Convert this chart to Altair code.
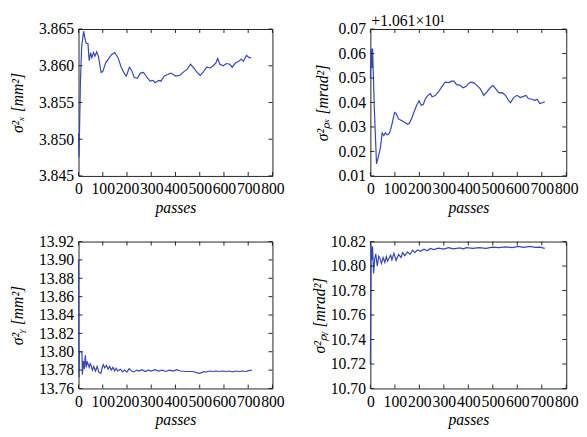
import altair as alt
import pandas as pd

FONT = "Liberation Serif"
LINE = "#3446b8"
H = 150

x_ticks = [0, 100, 200, 300, 400, 500, 600, 700, 800]

# Panel 1: sigma_x^2 [mm^2]
passes_1 = [0, 2, 8, 13, 21, 26, 31, 39, 44, 50, 55, 62, 68, 75, 82, 93, 100, 112, 123, 136,
            149, 163, 176, 190, 197, 210, 220, 230, 243, 255, 268, 281, 295, 308, 316, 331, 340,
            354, 368, 381, 401, 418, 435, 448, 462, 475, 489, 502, 516, 529, 543, 556, 567, 574,
            583, 597, 610, 624, 634, 648, 661, 671, 680, 693, 704, 712]
sigma_x2 = [3.8508, 3.8475, 3.8580, 3.8626, 3.8647, 3.8638, 3.8631, 3.8630, 3.8607, 3.8618,
            3.8611, 3.8618, 3.8613, 3.8619, 3.8613, 3.8591, 3.8592, 3.8604, 3.8609, 3.8615,
            3.8618, 3.8611, 3.8598, 3.8589, 3.8586, 3.8598, 3.8593, 3.8584, 3.8583, 3.8590,
            3.8591, 3.8585, 3.8579, 3.8580, 3.8577, 3.8580, 3.8579, 3.8586, 3.8588, 3.8590,
            3.8586, 3.8587, 3.8592, 3.8595, 3.8602, 3.8597, 3.8591, 3.8587, 3.8592, 3.8598,
            3.8597, 3.8600, 3.8604, 3.8610, 3.8602, 3.8600, 3.8603, 3.8602, 3.8598, 3.8604,
            3.8606, 3.8609, 3.8606, 3.8614, 3.8611, 3.8611]
y_ticks_1 = [3.845, 3.850, 3.855, 3.860, 3.865]

# Panel 2: sigma_px^2 [mrad^2], shown with offset +1.061e1
passes_2 = [0, 3, 6, 9, 16, 25, 32, 41, 48, 55, 61, 68, 76, 83, 92, 99, 105, 115, 125, 139,
            152, 159, 169, 179, 189, 199, 208, 216, 225, 235, 245, 252, 265, 279, 292, 305, 319,
            332, 341, 352, 365, 379, 392, 399, 410, 423, 436, 449, 463, 476, 489, 501, 512, 525,
            539, 552, 565, 572, 585, 599, 612, 625, 636, 645, 659, 672, 681, 692, 703, 712]
sigma_px2_offset = [0.050, 0.062, 0.054, 0.062, 0.038, 0.0149, 0.0176, 0.0216, 0.0276, 0.0265,
                    0.0276, 0.0268, 0.0272, 0.0289, 0.0329, 0.0359, 0.0355, 0.0333, 0.0327, 0.0319,
                    0.0311, 0.0315, 0.0336, 0.0363, 0.0389, 0.0407, 0.0389, 0.0392, 0.0416, 0.0429,
                    0.0436, 0.0423, 0.0428, 0.0445, 0.0465, 0.0483, 0.0481, 0.0487, 0.0487, 0.0473,
                    0.0471, 0.0460, 0.0466, 0.0476, 0.0483, 0.0480, 0.0469, 0.0456, 0.0429, 0.0443,
                    0.0460, 0.0469, 0.0456, 0.0439, 0.0440, 0.0429, 0.0407, 0.0399, 0.0420, 0.0429,
                    0.0420, 0.0425, 0.0429, 0.0416, 0.0413, 0.0409, 0.0413, 0.0396, 0.0399, 0.0403]
y_ticks_2 = [0.01, 0.02, 0.03, 0.04, 0.05, 0.06, 0.07]
offset_text = "+1.061×10¹"

# Panel 3: sigma_y^2 [mm^2]
passes_3 = [0, 2, 4, 14, 16, 20, 24, 28, 32, 36, 40, 44, 48, 52, 57, 63, 70, 77, 84, 92, 97,
            102, 108, 115, 122, 128, 135, 142, 149, 155, 162, 173, 182, 189, 200, 209, 219, 229,
            240, 250, 262, 275, 288, 300, 315, 330, 345, 360, 375, 391, 405, 420, 445, 472, 490,
            500, 515, 527, 540, 554, 567, 581, 595, 608, 622, 635, 650, 662, 675, 689, 702, 715]
sigma_y2 = [13.900, 13.772, 13.800, 13.800, 13.775, 13.790, 13.781, 13.796, 13.783, 13.7895,
            13.786, 13.783, 13.787, 13.785, 13.780, 13.784, 13.779, 13.784, 13.7775, 13.7765,
            13.782, 13.786, 13.7825, 13.785, 13.781, 13.784, 13.780, 13.783, 13.779, 13.782,
            13.779, 13.781, 13.778, 13.780, 13.778, 13.7815, 13.779, 13.778, 13.780, 13.779,
            13.7805, 13.7785, 13.780, 13.779, 13.7805, 13.779, 13.780, 13.7785, 13.780, 13.779,
            13.7805, 13.779, 13.7785, 13.7785, 13.777, 13.7765, 13.778, 13.778, 13.779, 13.7785,
            13.779, 13.7785, 13.779, 13.7785, 13.779, 13.778, 13.779, 13.7785, 13.779, 13.7785,
            13.7795, 13.780]
y_ticks_3 = [13.76, 13.78, 13.80, 13.82, 13.84, 13.86, 13.88, 13.90, 13.92]

# Panel 4: sigma_py^2 [mrad^2]
passes_4 = [0, 3, 6, 9, 13, 18, 22, 28, 34, 39, 45, 52, 59, 65, 70, 75, 83, 88, 96, 105, 115,
            125, 132, 140, 152, 162, 172, 182, 192, 205, 219, 232, 245, 258, 279, 299, 319, 339,
            365, 380, 392, 418, 445, 472, 499, 525, 552, 579, 605, 625, 652, 672, 692, 712]
sigma_py2 = [10.720, 10.817, 10.805, 10.816, 10.794, 10.806, 10.810, 10.800, 10.808, 10.8064,
             10.802, 10.807, 10.803, 10.8077, 10.804, 10.806, 10.809, 10.805, 10.8104, 10.8045,
             10.8095, 10.807, 10.811, 10.8085, 10.8115, 10.8095, 10.813, 10.811, 10.8132, 10.812,
             10.8138, 10.8125, 10.8144, 10.8135, 10.8146, 10.8138, 10.815, 10.814, 10.8148,
             10.814, 10.815, 10.8145, 10.815, 10.8145, 10.8155, 10.815, 10.8157, 10.815, 10.816,
             10.8152, 10.816, 10.8152, 10.8155, 10.8144]
y_ticks_4 = [10.70, 10.72, 10.74, 10.76, 10.78, 10.80, 10.82]


def panel(px, py, yticks, yfmt, ytitle, width, tpad, extent=None, extra=None):
    df = pd.DataFrame({"passes": px, "v": py})
    xs = alt.Scale(domain=[0, 800], nice=False, zero=False)
    ys = alt.Scale(domain=[yticks[0], yticks[-1]], nice=False, zero=False)
    yaxis_kw = dict(values=yticks, format=yfmt, title=ytitle, titlePadding=tpad,
                    labelOverlap=False)
    if extent is not None:
        yaxis_kw["minExtent"] = extent
        yaxis_kw["maxExtent"] = extent
    xaxis = alt.Axis(values=x_ticks, format="d", title="passes",
                     labelOverlap=False, labelFlush=False, titlePadding=3)
    yaxis = alt.Axis(**yaxis_kw)
    line = alt.Chart(df).mark_line(color=LINE, strokeWidth=1.2).encode(
        x=alt.X("passes:Q", scale=xs, axis=xaxis),
        y=alt.Y("v:Q", scale=ys, axis=yaxis),
    )
    ytdf = pd.DataFrame({"v": yticks})
    xtdf = pd.DataFrame({"passes": x_ticks})
    tick_color = "#222222"
    lt = alt.Chart(ytdf).mark_rule(color=tick_color).encode(
        y=alt.Y("v:Q", scale=ys, axis=yaxis), x=alt.value(0), x2=alt.value(4))
    rt = alt.Chart(ytdf).mark_rule(color=tick_color).encode(
        y=alt.Y("v:Q", scale=ys, axis=yaxis), x=alt.value(width - 4), x2=alt.value(width))
    bt = alt.Chart(xtdf).mark_rule(color=tick_color).encode(
        x=alt.X("passes:Q", scale=xs, axis=xaxis), y=alt.value(H - 4), y2=alt.value(H))
    tt = alt.Chart(xtdf).mark_rule(color=tick_color).encode(
        x=alt.X("passes:Q", scale=xs, axis=xaxis), y=alt.value(0), y2=alt.value(4))
    layers = [line, lt, rt, bt, tt] + (extra or [])
    return alt.layer(*layers).properties(width=width, height=H)


# invisible layout anchor: fixes the top-left corner of the whole figure
anchor = alt.Chart(pd.DataFrame({"a": [0]})).mark_rule(strokeOpacity=0, opacity=0).encode(
    x=alt.value(-71), x2=alt.value(-70), y=alt.value(-16), y2=alt.value(-15))

offset_layer = alt.Chart(pd.DataFrame({"s": [offset_text]})).mark_text(
    align="left", baseline="alphabetic", font=FONT, fontSize=16, color="black"
).encode(text="s:N", x=alt.value(1), y=alt.value(-3))

p1 = panel(passes_1, sigma_x2, y_ticks_1, ".3f", "σ²ₓ [mm²]", 198, 12, extent=42,
           extra=[anchor])
p2 = panel(passes_2, sigma_px2_offset, y_ticks_2, ".2f", "σ²ₚₓ [mrad²]", 200, 8,
           extra=[offset_layer])
p3 = panel(passes_3, sigma_y2, y_ticks_3, ".2f", "σ²ᵧ [mm²]", 198, 12, extent=42)
p4 = panel(passes_4, sigma_py2, y_ticks_4, ".2f", "σ²ₚᵧ [mrad²]", 200, 3)

chart = alt.concat(
    p1, p2, p3, p4, columns=2, spacing={"row": 67, "column": 100}, bounds="flush"
).properties(padding=0).configure_view(
    stroke="#222222", strokeWidth=1
).configure_axis(
    domain=False, grid=False, ticks=False, tickSize=0,
    labelFont=FONT, labelFontSize=16, labelColor="black", labelPadding=5,
    titleFont=FONT, titleFontSize=16, titleFontWeight="normal",
    titleFontStyle="italic", titleColor="black"
)

chart.save("out.html", embed_options={"renderer": "svg", "actions": False})
